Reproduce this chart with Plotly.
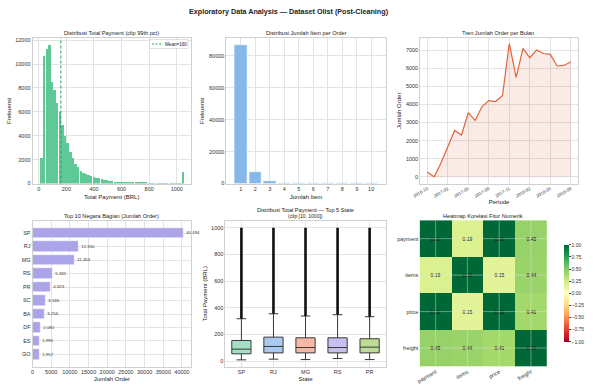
import plotly.graph_objects as go

W, H = 595, 388
FONT = "Liberation Sans, Arial, sans-serif"

# ---------------- data ----------------
payment_counts = [2100, 10650, 11300, 11600, 8500, 7850, 6700, 6000, 4900, 3950,
                  3350, 2600, 2100, 1650, 1350, 1050, 900, 760, 680, 600,
                  520, 470, 420, 360, 310, 260, 220, 190, 165, 145,
                  125, 110, 100, 90, 80, 72, 65, 58, 52, 47,
                  43, 40, 36, 33, 30, 28, 26, 24, 22, 20,
                  18, 17, 16, 15, 1000]
payment_bin_start = 7.0
payment_bin_width = 18.97
payment_mean = 160

item_values = [1, 2, 3, 4, 5, 6, 7, 8, 9, 10]
item_counts = [86900, 7450, 1300, 500, 200, 190, 25, 10, 4, 8]

periods = ["2016-10", "2016-12", "2017-01", "2017-02", "2017-03", "2017-04", "2017-05",
           "2017-06", "2017-07", "2017-08", "2017-09", "2017-10", "2017-11", "2017-12",
           "2018-01", "2018-02", "2018-03", "2018-04", "2018-05", "2018-06", "2018-07",
           "2018-08"]
monthly_orders = [275, 1, 770, 1680, 2560, 2310, 3550, 3110, 3880, 4210, 4160, 4490,
                  7360, 5490, 7090, 6575, 7000, 6810, 6760, 6120, 6150, 6355]

top_states = ["SP", "RJ", "MG", "RS", "PR", "SC", "BA", "DF", "ES", "GO"]
state_orders = [40494, 12350, 11354, 5345, 4923, 3546, 3256, 2080, 1995, 1957]

box_states = ["SP", "RJ", "MG", "RS", "PR"]
box_q1 = [55, 62, 62, 62, 62]
box_median = [90, 110, 102, 102, 105]
box_q3 = [155, 180, 175, 175, 168]
box_low = [10, 15, 12, 20, 12]
box_high = [318, 355, 338, 348, 333]
box_max = [1000, 1000, 1000, 1000, 1000]
box_colors = ["#a3dfc5", "#a9caee", "#f4b9a5", "#c6c1f0", "#bddc95"]

corr_labels = ["payment", "items", "price", "freight"]
corr_matrix = [[1.00, 0.19, 1.00, 0.45],
               [0.19, 1.00, 0.15, 0.44],
               [1.00, 0.15, 1.00, 0.41],
               [0.45, 0.44, 0.41, 1.00]]

# ---------------- helpers ----------------
def xd(a, b):
    return [a / W, b / W]

def yd(top, bottom):
    return [1 - bottom / H, 1 - top / H]

GRID = "#e3e3e3"
LINE = "#d0d0d0"
TICKF = dict(size=5.5, color="#333", family=FONT)
TITLEF = dict(size=6, color="#222", family=FONT)
MEAN_COLOR = "#2f9a6a"

def ax(**kw):
    base = dict(showgrid=True, gridcolor=GRID, gridwidth=0.8, showline=True,
                linecolor=LINE, linewidth=0.8, mirror=True, zeroline=False,
                ticks="", tickfont=TICKF, automargin=False, fixedrange=True)
    base.update(kw)
    return base

fig = go.Figure()

# 1. histogram of payments
centers = [payment_bin_start + (i + 0.5) * payment_bin_width for i in range(len(payment_counts))]
fig.add_trace(go.Bar(x=centers, y=payment_counts, width=payment_bin_width * 0.93,
                     marker=dict(color="#5ec896", line=dict(width=0)),
                     showlegend=False, xaxis="x", yaxis="y"))
ymax1 = max(payment_counts) * 1.05
fig.add_trace(go.Scatter(x=[payment_mean, payment_mean], y=[0, ymax1], mode="lines",
                         line=dict(color=MEAN_COLOR, width=1, dash="3px,2px"),
                         name=f"Mean={payment_mean}", showlegend=False,
                         xaxis="x", yaxis="y"))

# 2. items per order
fig.add_trace(go.Bar(x=item_values, y=item_counts, width=0.85,
                     marker=dict(color="#86b7ea", line=dict(color="white", width=0.5)),
                     showlegend=False, xaxis="x2", yaxis="y2"))

# 3. monthly trend
fig.add_trace(go.Scatter(x=periods, y=monthly_orders, mode="lines",
                         line=dict(color="#e0643c", width=1.2),
                         fill="tozeroy", fillcolor="rgba(224,100,60,0.13)",
                         showlegend=False, xaxis="x3", yaxis="y3"))

# 4. top states
fig.add_trace(go.Bar(x=state_orders, y=top_states, orientation="h", width=0.8,
                     marker=dict(color="#aca4e8", line=dict(color="white", width=0.5)),
                     text=[f"{v:,}" for v in state_orders], textposition="outside",
                     textfont=dict(size=4.3, color="#333", family=FONT),
                     cliponaxis=False, showlegend=False, xaxis="x4", yaxis="y4"))

# 5. box plots
for i, st in enumerate(box_states):
    fig.add_trace(go.Scatter(x=[st, st], y=[box_high[i], box_max[i]], mode="lines",
                             line=dict(color="#111", width=2.6), showlegend=False,
                             xaxis="x5", yaxis="y5"))
    fig.add_trace(go.Box(x=[st], q1=[box_q1[i]], median=[box_median[i]], q3=[box_q3[i]],
                         lowerfence=[box_low[i]], upperfence=[box_high[i]],
                         width=0.6, whiskerwidth=0.5, fillcolor=box_colors[i],
                         line=dict(color="#3a3a3a", width=1), boxpoints=False,
                         showlegend=False, xaxis="x5", yaxis="y5"))

# 6. heatmap
fig.add_trace(go.Heatmap(z=corr_matrix, x=corr_labels, y=corr_labels,
                         colorscale="RdYlGn", zmin=-1, zmax=1,
                         texttemplate="%{z:.2f}", textfont=dict(size=5, color="#111", family=FONT),
                         colorbar=dict(x=570.5 / W, xanchor="left", thickness=4.5,
                                       len=117 / H, lenmode="fraction", y=1 - 293.3 / H,
                                       yanchor="middle", tickvals=[-1, -0.75, -0.5, -0.25, 0, 0.25, 0.5, 0.75, 1],
                                       tickformat=".2f", tickfont=dict(size=5, color="#333", family=FONT),
                                       outlinewidth=0, ticks="outside", ticklen=2),
                         showscale=True, xaxis="x6", yaxis="y6"))

row1 = yd(38, 183.5)
row2 = yd(221, 366.5)

layout = dict(
    width=W, height=H, margin=dict(l=0, r=0, t=0, b=0),
    paper_bgcolor="white", plot_bgcolor="white",
    font=dict(family=FONT, color="#222"),
    bargap=0, showlegend=False,
    xaxis=ax(domain=xd(33.5, 196.5), range=[-45, 1102], tickvals=[0, 200, 400, 600, 800, 1000],
             title=dict(text="Total Payment (BRL)", font=TITLEF, standoff=3), anchor="y"),
    yaxis=ax(domain=row1, range=[0, ymax1], tickvals=list(range(0, 12001, 2000)), tickformat="d",
             title=dict(text="Frekuensi", font=TITLEF, standoff=3), anchor="x"),
    xaxis2=ax(domain=xd(233, 397), range=[0, 11], tickvals=item_values,
              title=dict(text="Jumlah Item", font=TITLEF, standoff=3), anchor="y2"),
    yaxis2=ax(domain=row1, range=[0, max(item_counts) * 1.05], tickvals=[0, 20000, 40000, 60000, 80000],
              tickformat="d", title=dict(text="Frekuensi", font=TITLEF, standoff=3), anchor="x2"),
    xaxis3=ax(domain=xd(432.5, 595), type="category", categoryorder="array", categoryarray=periods,
              range=[-1.05, 22.05], tickmode="array", tickvals=periods[::3], tickangle=-30,
              tickfont=dict(size=4.5, color="#333", family=FONT),
              title=dict(text="Periode", font=TITLEF, standoff=2), anchor="y3"),
    yaxis3=ax(domain=yd(38, 183.5), range=[-365, 7665], tickvals=list(range(0, 7001, 1000)), tickformat="d",
              title=dict(text="Jumlah Order", font=TITLEF, standoff=3), anchor="x3"),
    xaxis4=ax(domain=xd(33.5, 197), range=[0, 42519], tickvals=list(range(0, 40001, 5000)), tickformat="d",
              title=dict(text="Jumlah Order", font=TITLEF, standoff=2), anchor="y4"),
    yaxis4=ax(domain=row2, type="category", categoryorder="array", categoryarray=top_states,
              range=[9.89, -0.89], anchor="x4"),
    xaxis5=ax(domain=xd(232, 397), type="category", categoryorder="array", categoryarray=box_states,
              range=[-0.5, 4.5], title=dict(text="State", font=TITLEF, standoff=2), anchor="y5"),
    yaxis5=ax(domain=row2, range=[-40, 1050], tickvals=[0, 200, 400, 600, 800, 1000], tickformat="d",
              title=dict(text="Total Payment (BRL)", font=TITLEF, standoff=3), anchor="x5"),
    xaxis6=ax(domain=xd(431.7, 563.3), showgrid=False, showline=False, mirror=False, tickangle=-30,
              anchor="y6"),
    yaxis6=ax(domain=yd(220, 366.7), showgrid=False, showline=False, mirror=False, autorange="reversed",
              anchor="x6"),
)
fig.update_layout(**layout)

shapes = []
# heatmap grid lines drawn over the cells (whitegrid style)
for i in range(len(corr_labels)):
    shapes.append(dict(type="line", xref="x6", yref="y6", x0=i, x1=i, y0=-0.5, y1=len(corr_labels) - 0.5,
                       line=dict(color="rgba(230,230,230,0.55)", width=0.8), layer="above"))
    shapes.append(dict(type="line", xref="x6", yref="y6", y0=i, y1=i, x0=-0.5, x1=len(corr_labels) - 0.5,
                       line=dict(color="rgba(230,230,230,0.55)", width=0.8), layer="above"))
# compact legend box for the mean line (histogram)
shapes.append(dict(type="rect", xref="paper", yref="paper",
                   x0=154 / W, x1=193.5 / W, y0=1 - 48.5 / H, y1=1 - 39.5 / H,
                   line=dict(color="#cccccc", width=0.6), fillcolor="rgba(255,255,255,0.85)",
                   layer="above"))
shapes.append(dict(type="line", xref="paper", yref="paper",
                   x0=156.5 / W, x1=166 / W, y0=1 - 44 / H, y1=1 - 44 / H,
                   line=dict(color=MEAN_COLOR, width=1, dash="2px,1.5px"), layer="above"))
fig.update_layout(shapes=shapes)

# titles
STF = dict(size=5.6, color="#222", family=FONT)
def title_at(text, xc, yc, size=None, bold=False, anchor="center"):
    f = dict(STF)
    if size:
        f["size"] = size
    return dict(text=(f"<b>{text}</b>" if bold else text), x=xc / W, y=1 - yc / H,
                xref="paper", yref="paper", showarrow=False, font=f,
                xanchor=anchor, yanchor="middle")

annotations = [
    title_at("Exploratory Data Analysis — Dataset Olist (Post-Cleaning)", 298, 11, size=7.2, bold=True),
    title_at("Distribusi Total Payment (clip 99th pct)", 115, 33),
    title_at("Distribusi Jumlah Item per Order", 315, 33),
    title_at("Tren Jumlah Order per Bulan", 513, 33),
    title_at("Top 10 Negara Bagian (Jumlah Order)", 115, 215.5),
    title_at("Distribusi Total Payment — Top 5 State", 314.5, 209.5),
    title_at("(clip [10, 1000])", 314.5, 215.5, size=5),
    title_at("Heatmap Korelasi Fitur Numerik", 497.5, 215.5),
    title_at(f"Mean={payment_mean}", 167.5, 44, size=4.6, anchor="left"),
]
fig.update_layout(annotations=annotations)

fig.write_html("out.html", config={"displayModeBar": False},
               post_script="document.body.style.margin='0';")
